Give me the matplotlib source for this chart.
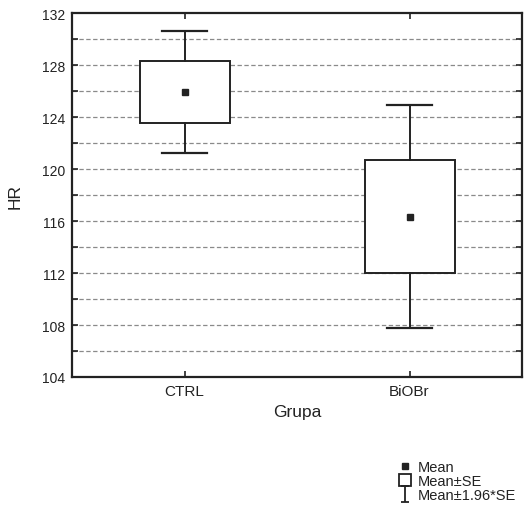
import numpy as np
import matplotlib.pyplot as plt
from matplotlib.path import Path
from matplotlib.lines import Line2D
from matplotlib.patches import Rectangle

plt.rcParams['font.family'] = ['Liberation Sans', 'DejaVu Sans']

# data
groups = ['CTRL', 'BiOBr']
means = [125.95, 116.33]
se_low = [123.56, 112.02]
se_high = [128.33, 120.72]
ci_low = [121.25, 107.77]
ci_high = [130.64, 124.95]

yticks = [104, 108, 112, 116, 120, 124, 128, 132]
grid_levels = [106, 108, 110, 112, 114, 116, 118, 120, 122, 124, 126, 128, 130]

fig = plt.figure(figsize=(5.27, 5.06), dpi=100)
ax = fig.add_axes([72 / 527, 1 - 378 / 506, 450 / 527, 364 / 506])

ink = '#222222'
box_w = 0.4
cap_w = 0.2

# dashed grid
for g in grid_levels:
    ax.axhline(g, color='#8a8a8a', lw=0.9, ls=(0, (3.5, 2)), zorder=1)

x = np.arange(len(groups))
for i in range(len(groups)):
    # whiskers (mean +/- 1.96*SE)
    ax.plot([x[i], x[i]], [ci_low[i], se_low[i]], color=ink, lw=1.4, zorder=3)
    ax.plot([x[i], x[i]], [se_high[i], ci_high[i]], color=ink, lw=1.4, zorder=3)
    for v in (ci_low[i], ci_high[i]):
        ax.plot([x[i] - cap_w / 2, x[i] + cap_w / 2], [v, v], color=ink, lw=1.6, zorder=3)
    # box (mean +/- SE)
    ax.add_patch(Rectangle((x[i] - box_w / 2, se_low[i]), box_w, se_high[i] - se_low[i],
                           facecolor='white', edgecolor=ink, lw=1.4, zorder=2))
    # mean
    ax.plot(x[i], means[i], marker='s', ms=5, color=ink, ls='none', zorder=4)

ax.set_xlim(-0.5, 1.5)
ax.set_ylim(104, 132)
ax.set_xticks(x)
ax.set_xticklabels(groups)
ax.set_yticks(yticks)
ax.set_yticks(grid_levels, minor=True)
ax.tick_params(axis='both', which='both', direction='in', length=4, width=1.2,
               colors=ink, top=True, right=True, pad=5)
ax.tick_params(axis='y', labelsize=10)
ax.tick_params(axis='x', labelsize=11)
for s in ax.spines.values():
    s.set_linewidth(1.6)
    s.set_color(ink)

ax.set_ylabel('HR', fontsize=12.5, labelpad=14, color=ink)
ax.set_xlabel('Grupa', fontsize=12.5, labelpad=4, color=ink)

# legend
ibeam = Path([(-0.5, -1), (0.5, -1), (0, -1), (0, 1), (-0.5, 1), (0.5, 1)],
             [Path.MOVETO, Path.LINETO, Path.MOVETO, Path.LINETO, Path.MOVETO, Path.LINETO])
handles = [
    Line2D([], [], marker='s', ms=4.5, color=ink, ls='none'),
    Line2D([], [], marker='s', ms=9, mfc='white', mec=ink, mew=1.3, ls='none'),
    Line2D([], [], marker=ibeam, ms=11, color=ink, mew=1.3, ls='none'),
]
fig.legend(handles, ['Mean', 'Mean±SE', 'Mean±1.96*SE'], loc='upper left',
           bbox_to_anchor=(392 / 527, 1 - 454 / 506), frameon=False, fontsize=10.5,
           handlelength=0.8, handletextpad=0.45, labelspacing=0.0, borderpad=0,
           labelcolor=ink)

fig.savefig('out.png', dpi=100)
